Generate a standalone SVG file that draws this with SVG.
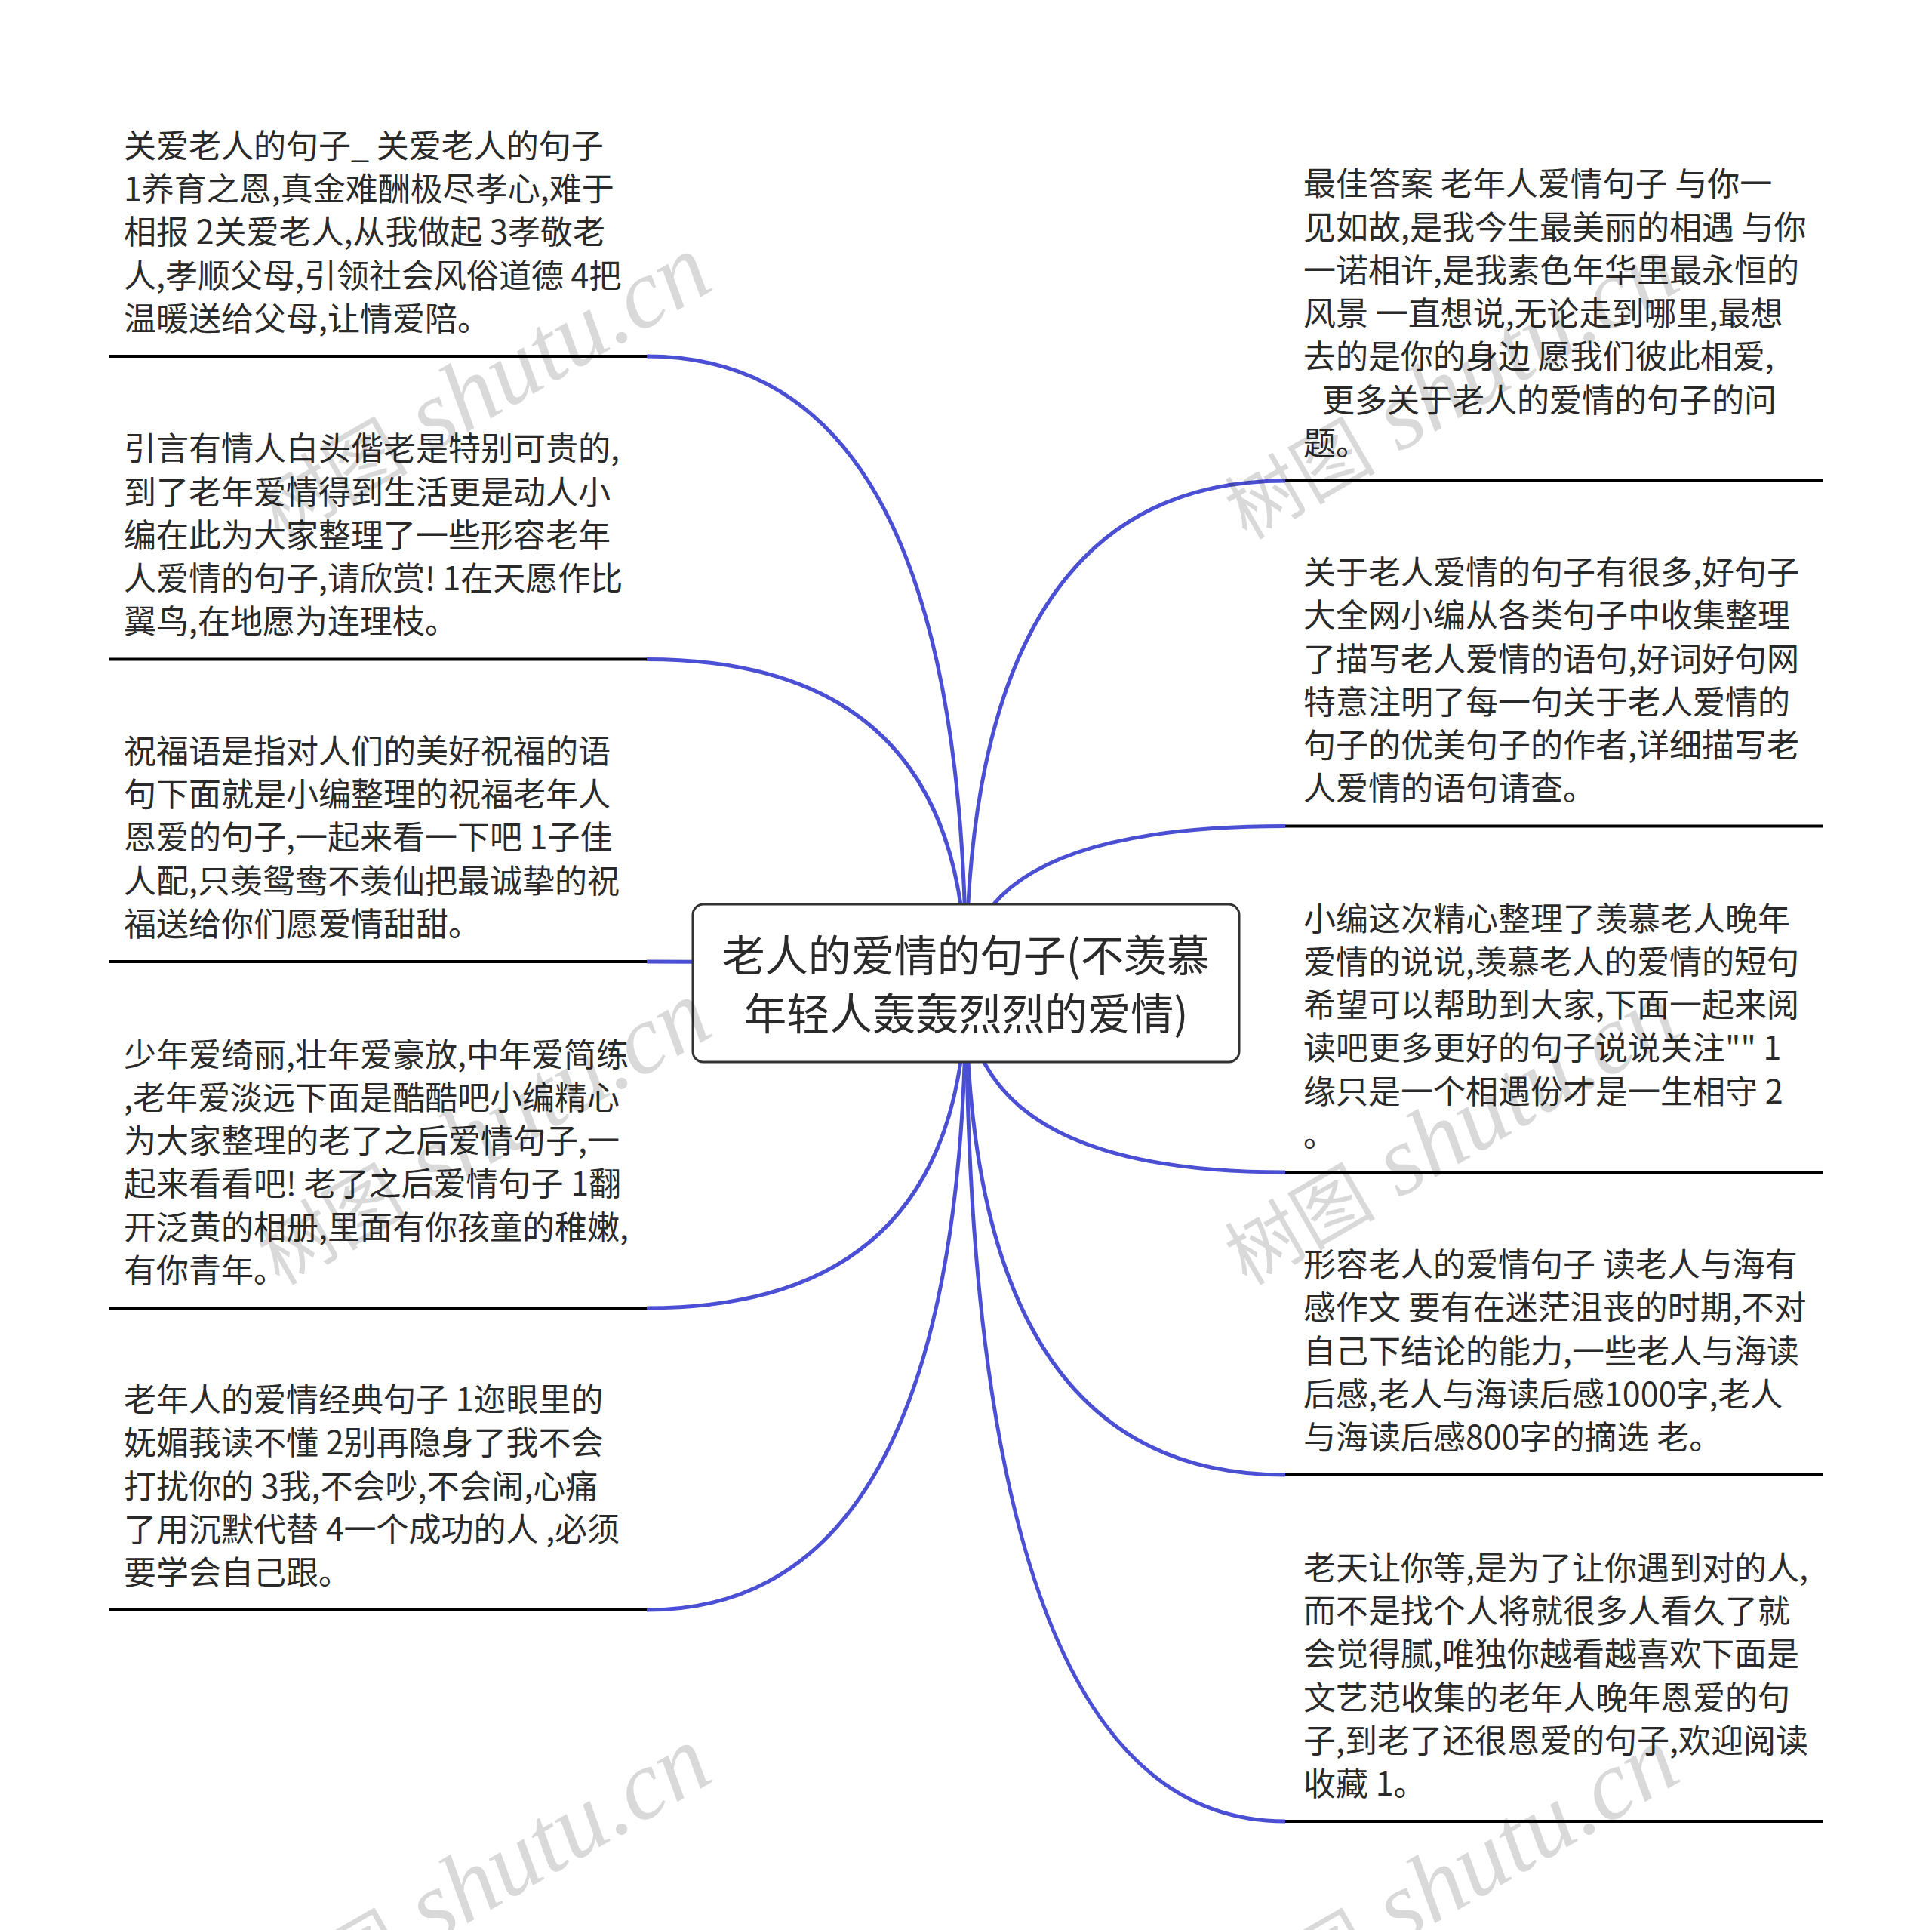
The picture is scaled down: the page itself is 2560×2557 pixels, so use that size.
<svg xmlns="http://www.w3.org/2000/svg" width="2560" height="2557" viewBox="0 0 2560 2557">
<style>
.t{font-family:"Noto Sans CJK SC","Noto Sans",sans-serif;font-size:43px;fill:#2a2a2a}
.ct{font-family:"Noto Sans CJK SC","Noto Sans",sans-serif;font-size:57px;fill:#2a2a2a;text-anchor:middle}
.ul{stroke:#000;stroke-width:4;fill:none}
.cn{stroke:#4b4fd3;stroke-width:5;fill:none}
.wm{font-family:"Liberation Serif",serif;font-style:italic;font-size:130px;fill:#000;fill-opacity:0.15}
.wmc{font-family:"Noto Sans CJK SC",sans-serif;font-style:normal;font-size:100px}
</style>
<rect width="2560" height="2557" fill="#fff"/>
<g id="connectors">
<path class="cn" d="M1280 1302 Q1280 472 857 472"/>
<path class="cn" d="M1280 1302 Q1280 873.5 857 873.5"/>
<path class="cn" d="M1280 1302 Q1280 1274 857 1274"/>
<path class="cn" d="M1280 1302 Q1280 1733 857 1733"/>
<path class="cn" d="M1280 1302 Q1280 2133 857 2133"/>
<path class="cn" d="M1280 1302 Q1280 637 1703 637"/>
<path class="cn" d="M1280 1302 Q1280 1094.5 1703 1094.5"/>
<path class="cn" d="M1280 1302 Q1280 1553 1703 1553"/>
<path class="cn" d="M1280 1302 Q1280 1954 1703 1954"/>
<path class="cn" d="M1280 1302 Q1280 2413 1703 2413"/>
</g>
<g id="center">
<rect x="918" y="1198" width="724" height="209" rx="14" fill="#fff" stroke="#333" stroke-width="3"/>
<text class="ct" x="1280" y="1287">老人的爱情的句子(不羡慕</text>
<text class="ct" x="1280" y="1364">年轻人轰轰烈烈的爱情)</text>
</g>
<g id="L1">
<text class="t" x="164" y="209">关爱老人的句子_ 关爱老人的句子</text>
<text class="t" x="164" y="266">1养育之恩,真金难酬极尽孝心,难于</text>
<text class="t" x="164" y="323">相报 2关爱老人,从我做起 3孝敬老</text>
<text class="t" x="164" y="381">人,孝顺父母,引领社会风俗道德 4把</text>
<text class="t" x="164" y="438">温暖送给父母,让情爱陪。</text>
<line class="ul" x1="144" y1="472" x2="857" y2="472"/>
</g>
<g id="L2">
<text class="t" x="164" y="610">引言有情人白头偕老是特别可贵的,</text>
<text class="t" x="164" y="668">到了老年爱情得到生活更是动人小</text>
<text class="t" x="164" y="725">编在此为大家整理了一些形容老年</text>
<text class="t" x="164" y="782">人爱情的句子,请欣赏! 1在天愿作比</text>
<text class="t" x="164" y="839">翼鸟,在地愿为连理枝。</text>
<line class="ul" x1="144" y1="873.5" x2="857" y2="873.5"/>
</g>
<g id="L3">
<text class="t" x="164" y="1011">祝福语是指对人们的美好祝福的语</text>
<text class="t" x="164" y="1068">句下面就是小编整理的祝福老年人</text>
<text class="t" x="164" y="1125">恩爱的句子,一起来看一下吧 1子佳</text>
<text class="t" x="164" y="1183">人配,只羡鸳鸯不羡仙把最诚挚的祝</text>
<text class="t" x="164" y="1240">福送给你们愿爱情甜甜。</text>
<line class="ul" x1="144" y1="1274" x2="857" y2="1274"/>
</g>
<g id="L4">
<text class="t" x="164" y="1413">少年爱绮丽,壮年爱豪放,中年爱简练</text>
<text class="t" x="164" y="1470">,老年爱淡远下面是酷酷吧小编精心</text>
<text class="t" x="164" y="1527">为大家整理的老了之后爱情句子,一</text>
<text class="t" x="164" y="1584">起来看看吧! 老了之后爱情句子 1翻</text>
<text class="t" x="164" y="1642">开泛黄的相册,里面有你孩童的稚嫩,</text>
<text class="t" x="164" y="1699">有你青年。</text>
<line class="ul" x1="144" y1="1733" x2="857" y2="1733"/>
</g>
<g id="L5">
<text class="t" x="164" y="1870">老年人的爱情经典句子 1迩眼里的</text>
<text class="t" x="164" y="1927">妩媚莪读不懂 2别再隐身了我不会</text>
<text class="t" x="164" y="1985">打扰你的 3我,不会吵,不会闹,心痛</text>
<text class="t" x="164" y="2042">了用沉默代替 4一个成功的人 ,必须</text>
<text class="t" x="164" y="2099">要学会自己跟。</text>
<line class="ul" x1="144" y1="2133" x2="857" y2="2133"/>
</g>
<g id="R1">
<text class="t" x="1727" y="259">最佳答案 老年人爱情句子 与你一</text>
<text class="t" x="1727" y="317">见如故,是我今生最美丽的相遇 与你</text>
<text class="t" x="1727" y="374">一诺相许,是我素色年华里最永恒的</text>
<text class="t" x="1727" y="431">风景 一直想说,无论走到哪里,最想</text>
<text class="t" x="1727" y="488">去的是你的身边 愿我们彼此相爱,</text>
<text class="t" x="1752" y="546">更多关于老人的爱情的句子的问</text>
<text class="t" x="1727" y="603">题。</text>
<line class="ul" x1="1703" y1="637" x2="2416" y2="637"/>
</g>
<g id="R2">
<text class="t" x="1727" y="774">关于老人爱情的句子有很多,好句子</text>
<text class="t" x="1727" y="831">大全网小编从各类句子中收集整理</text>
<text class="t" x="1727" y="889">了描写老人爱情的语句,好词好句网</text>
<text class="t" x="1727" y="946">特意注明了每一句关于老人爱情的</text>
<text class="t" x="1727" y="1003">句子的优美句子的作者,详细描写老</text>
<text class="t" x="1727" y="1060">人爱情的语句请查。</text>
<line class="ul" x1="1703" y1="1094.5" x2="2416" y2="1094.5"/>
</g>
<g id="R3">
<text class="t" x="1727" y="1233">小编这次精心整理了羡慕老人晚年</text>
<text class="t" x="1727" y="1290">爱情的说说,羡慕老人的爱情的短句</text>
<text class="t" x="1727" y="1347">希望可以帮助到大家,下面一起来阅</text>
<text class="t" x="1727" y="1404">读吧更多更好的句子说说关注"" 1</text>
<text class="t" x="1727" y="1462">缘只是一个相遇份才是一生相守 2</text>
<text class="t" x="1727" y="1519">。</text>
<line class="ul" x1="1703" y1="1553" x2="2416" y2="1553"/>
</g>
<g id="R4">
<text class="t" x="1727" y="1691">形容老人的爱情句子 读老人与海有</text>
<text class="t" x="1727" y="1748">感作文 要有在迷茫沮丧的时期,不对</text>
<text class="t" x="1727" y="1806">自己下结论的能力,一些老人与海读</text>
<text class="t" x="1727" y="1863">后感,老人与海读后感1000字,老人</text>
<text class="t" x="1727" y="1920">与海读后感800字的摘选 老。</text>
<line class="ul" x1="1703" y1="1954" x2="2416" y2="1954"/>
</g>
<g id="R5">
<text class="t" x="1727" y="2093">老天让你等,是为了让你遇到对的人,</text>
<text class="t" x="1727" y="2150">而不是找个人将就很多人看久了就</text>
<text class="t" x="1727" y="2207">会觉得腻,唯独你越看越喜欢下面是</text>
<text class="t" x="1727" y="2265">文艺范收集的老年人晚年恩爱的句</text>
<text class="t" x="1727" y="2322">子,到老了还很恩爱的句子,欢迎阅读</text>
<text class="t" x="1727" y="2379">收藏 1。</text>
<line class="ul" x1="1703" y1="2413" x2="2416" y2="2413"/>
</g>
<g id="watermark">
<text class="wm" transform="translate(370,716) rotate(-30)"><tspan class="wmc">树图</tspan> shutu.cn</text>
<text class="wm" transform="translate(1652,716) rotate(-30)"><tspan class="wmc">树图</tspan> shutu.cn</text>
<text class="wm" transform="translate(370,1704) rotate(-30)"><tspan class="wmc">树图</tspan> shutu.cn</text>
<text class="wm" transform="translate(1652,1704) rotate(-30)"><tspan class="wmc">树图</tspan> shutu.cn</text>
<text class="wm" transform="translate(370,2692) rotate(-30)"><tspan class="wmc">树图</tspan> shutu.cn</text>
<text class="wm" transform="translate(1652,2692) rotate(-30)"><tspan class="wmc">树图</tspan> shutu.cn</text>
</g>
</svg>
